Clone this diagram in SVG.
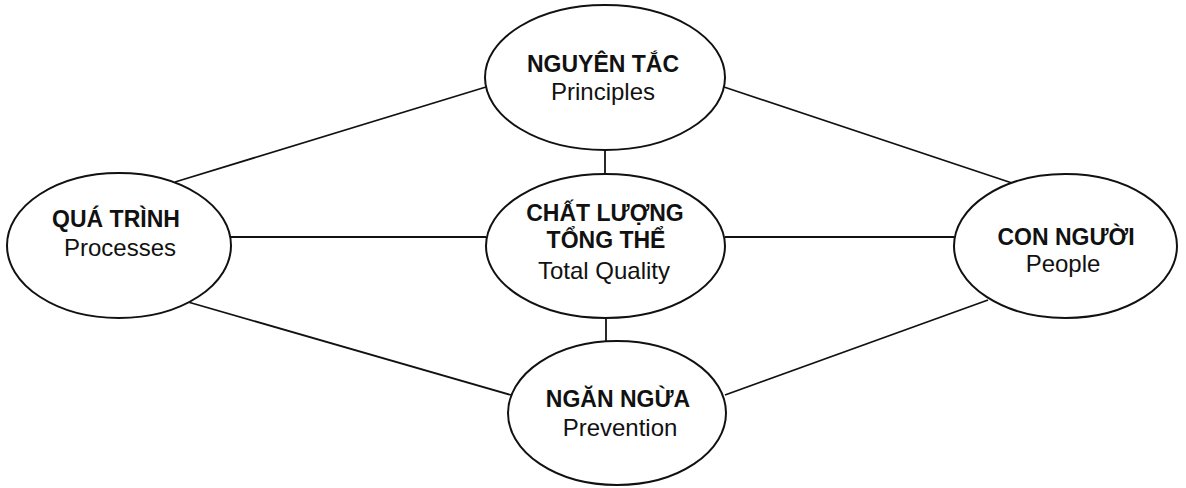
<svg xmlns="http://www.w3.org/2000/svg" width="1186" height="488" viewBox="0 0 1186 488">
<style>
.node ellipse{fill:#fff;stroke:#111;stroke-width:2}
.conn line{stroke:#111;stroke-width:1.8}
text{font-family:"Liberation Sans",Arial,sans-serif;fill:#111;text-anchor:middle}
.b{font-weight:bold;font-size:23px}
.r{font-size:24px}
</style>
<rect width="1186" height="488" fill="#fff"/>
<g id="connectors" class="conn">
<line x1="605" y1="150" x2="605" y2="174"/>
<line x1="606" y1="318" x2="606" y2="342"/>
<line x1="231" y1="237" x2="486" y2="237"/>
<line x1="725" y1="237" x2="954" y2="237"/>
<line x1="175" y1="182" x2="486" y2="87"/>
<line x1="724" y1="87" x2="1012" y2="183"/>
<line x1="188" y1="302" x2="511" y2="395"/>
<line x1="725" y1="395" x2="988" y2="300"/>
</g>
<g id="node-principles" class="node">
<ellipse cx="605" cy="77.5" rx="120" ry="72.5"/>
<text class="b" x="603" y="72">NGUYÊN TẮC</text>
<text class="r" x="603" y="100">Principles</text>
</g>
<g id="node-processes" class="node">
<ellipse cx="119" cy="245.5" rx="112" ry="72.5"/>
<text class="b" x="116" y="227">QUÁ TRÌNH</text>
<text class="r" x="120" y="256">Processes</text>
</g>
<g id="node-total-quality" class="node">
<ellipse cx="605.5" cy="246" rx="119.5" ry="72"/>
<text class="b" x="605" y="221">CHẤT LƯỢNG</text>
<text class="b" x="606" y="248">TỔNG THỂ</text>
<text class="r" x="604" y="279">Total Quality</text>
</g>
<g id="node-people" class="node">
<ellipse cx="1065.5" cy="246" rx="111.5" ry="72"/>
<text class="b" x="1066" y="245">CON NGƯỜI</text>
<text class="r" x="1063" y="272">People</text>
</g>
<g id="node-prevention" class="node">
<ellipse cx="617" cy="413" rx="109" ry="72"/>
<text class="b" x="618" y="407">NGĂN NGỪA</text>
<text class="r" x="620" y="436">Prevention</text>
</g>
</svg>
